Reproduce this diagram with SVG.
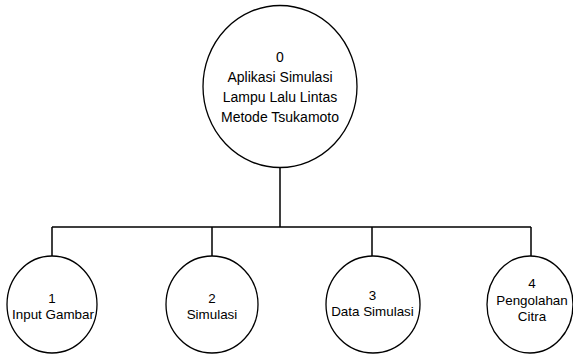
<svg xmlns="http://www.w3.org/2000/svg" width="573" height="354" viewBox="0 0 573 354">
<style>
.n{fill:#fff;stroke:#000;stroke-width:1.3}
.c{fill:none;stroke:#000;stroke-width:1.5}
.t{font-family:"Liberation Sans",Arial,sans-serif;font-size:14px;fill:#000;text-anchor:middle}
.s{font-size:13.4px}
</style>
<rect width="573" height="354" fill="#fff"/>
<g id="connectors">
<path class="c" d="M280,167 V227 M52,227 H531 M52,227 V256 M212,227 V256 M372,227 V256 M531,227 V256"/>
</g>
<g id="node0">
<ellipse class="n" cx="280" cy="86.5" rx="77" ry="81"/>
<text class="t" x="280" y="62">0</text>
<text class="t" x="280" y="82">Aplikasi Simulasi</text>
<text class="t" x="280" y="102">Lampu Lalu Lintas</text>
<text class="t" x="280" y="122">Metode Tsukamoto</text>
</g>
<g id="node1">
<ellipse class="n" cx="52" cy="304.5" rx="45" ry="48.5"/>
<text class="t s" x="52" y="303">1</text>
<text class="t s" x="53" y="319">Input Gambar</text>
</g>
<g id="node2">
<ellipse class="n" cx="212" cy="304.5" rx="46" ry="48.5"/>
<text class="t s" x="212" y="303">2</text>
<text class="t s" x="212" y="319">Simulasi</text>
</g>
<g id="node3">
<ellipse class="n" cx="373" cy="304.5" rx="47" ry="48.5"/>
<text class="t s" x="372.5" y="300">3</text>
<text class="t s" x="372.5" y="316">Data Simulasi</text>
</g>
<g id="node4">
<ellipse class="n" cx="530" cy="304.5" rx="43" ry="48.5"/>
<text class="t s" x="532" y="288">4</text>
<text class="t s" x="532" y="304.5">Pengolahan</text>
<text class="t s" x="532" y="321">Citra</text>
</g>
</svg>
